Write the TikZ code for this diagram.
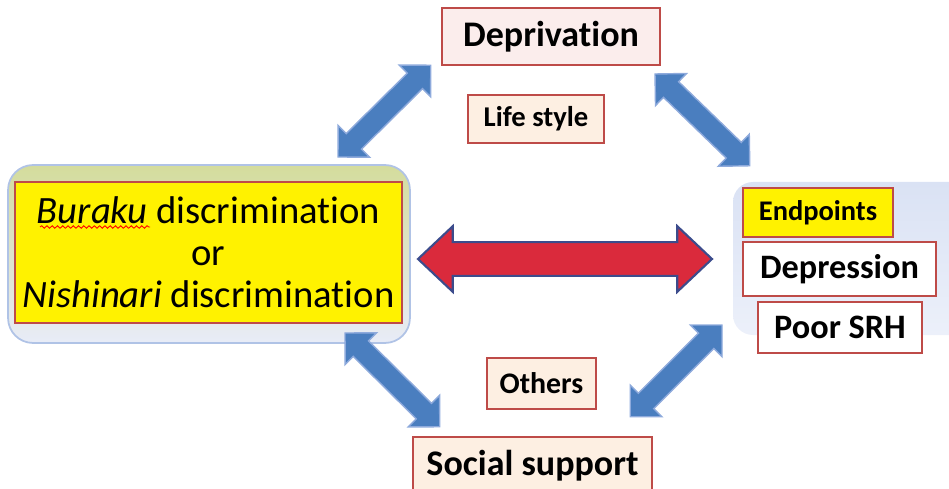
\documentclass[tikz,border=0pt]{standalone}
\usepackage{fontspec}
\setmainfont{Carlito}[Ligatures={NoCommon,NoContextual}]
\usepackage{tikz}
\usetikzlibrary{calc,decorations.pathmorphing}

\definecolor{boxred}{HTML}{BE4B48}
\definecolor{peach}{HTML}{FDEFE2}
\definecolor{pinkish}{HTML}{FBEDEC}
\definecolor{arrblue}{HTML}{4A7EBF}
\definecolor{arredge}{HTML}{8EAADC}
\definecolor{arrred}{HTML}{DA2A3C}
\definecolor{arrnavy}{HTML}{3C4C8C}

% fat double arrow between two points: style, from, to, head length, head half width, body half width
\newcommand\dblarrow[6]{%
  \path[#1] let \p1=($(#3)-(#2)$), \n1={atan2(\y1,\x1)}, \n2={veclen(\x1,\y1)} in
    [shift={(#2)}, rotate=\n1]
    (0pt,0pt) -- (#4,#5) -- (#4,#6) -- ({\n2-#4},#6) -- ({\n2-#4},#5) -- (\n2,0pt)
    -- ({\n2-#4},-#5) -- ({\n2-#4},-#6) -- (#4,-#6) -- (#4,-#5) -- cycle;
}

\tikzset{
  box/.style={draw=boxred, line width=1.4pt, inner sep=0pt, align=center},
  bluearr/.style={fill=arrblue, draw=arredge, line width=0.8pt, line join=miter},
  redarr/.style={fill=arrred, draw=arrnavy, line width=1.2pt, line join=miter}
}

\begin{document}
\begin{tikzpicture}[x=0.02cm,y=-0.02cm]
\useasboundingbox (0,0) rectangle (949,489);
\clip (0,0) rectangle (949,489);

% backgrounds
\node[rounded corners=0.5cm, draw=arredge!70, line width=1pt, top color={rgb,255:red,212;green,220;blue,156},
  bottom color={rgb,255:red,232;green,236;blue,248}, minimum width=8.04cm, minimum height=3.56cm]
  (lbg) at (209,254) {};
\path[rounded corners=0.4cm, top color={rgb,255:red,218;green,226;blue,244},
  bottom color={rgb,255:red,236;green,240;blue,250}] (733,182) rectangle (990,335);

% boxes
\node[box, fill=yellow, minimum width=7.74cm, minimum height=2.82cm, font=\fontsize{22}{24}\selectfont]
  (disc) at (208.5,252.5) {\textit{Buraku} discrimination\\or\\\textit{Nishinari} discrimination};
\draw[red, line width=0.5pt, decorate, decoration={snake, amplitude=0.7pt, segment length=3pt}]
  (40,227) -- (150,227);

\node[box, fill=pinkish, minimum width=4.36cm, minimum height=1.14cm, font=\fontsize{20.5}{24}\bfseries]
  (dep) at (551,36.5) {Deprivation};
\node[box, fill=peach, minimum width=2.72cm, minimum height=0.96cm, font=\fontsize{16.3}{20}\bfseries]
  (life) at (536,119) {Life style};
\node[box, fill=peach, minimum width=2.18cm, minimum height=1.02cm, font=\fontsize{17}{20}\bfseries]
  (oth) at (541.5,383.5) {Others};
\node[box, fill=peach, minimum width=4.78cm, minimum height=1.16cm, font=\fontsize{20.5}{24}\bfseries]
  (soc) at (532.5,466) {Social support};

\node[box, fill=yellow, minimum width=3.0cm, minimum height=0.98cm, font=\fontsize{16.2}{20}\bfseries]
  (endp) at (818,212.5) {Endpoints};
\node[box, fill=white, minimum width=3.86cm, minimum height=1.08cm, font=\fontsize{19.5}{24}\bfseries]
  (depr) at (839.5,269) {Depression};
\node[box, fill=white, minimum width=3.28cm, minimum height=1.02cm, font=\fontsize{19.5}{24}\bfseries]
  (srh) at (840,327.5) {Poor SRH};

% arrows
\coordinate (lu1) at (338,157);
\coordinate (lu2) at (431,65);
\coordinate (ru1) at (655,74);
\coordinate (ru2) at (750,166);
\coordinate (ld1) at (345,333);
\coordinate (ld2) at (440,427);
\coordinate (rd1) at (722,325);
\coordinate (rd2) at (630,417);
\coordinate (mid1) at (418,259);
\coordinate (mid2) at (712,259);

\dblarrow{bluearr}{lu1}{lu2}{12.7pt}{12.7pt}{6.2pt}
\dblarrow{bluearr}{ru1}{ru2}{12.7pt}{12.7pt}{6.2pt}
\dblarrow{bluearr}{ld1}{ld2}{12.7pt}{12.7pt}{6.2pt}
\dblarrow{bluearr}{rd1}{rd2}{12.7pt}{12.7pt}{6.2pt}
\dblarrow{redarr}{mid1}{mid2}{19.8pt}{18.7pt}{9.6pt}
\end{tikzpicture}
\end{document}
